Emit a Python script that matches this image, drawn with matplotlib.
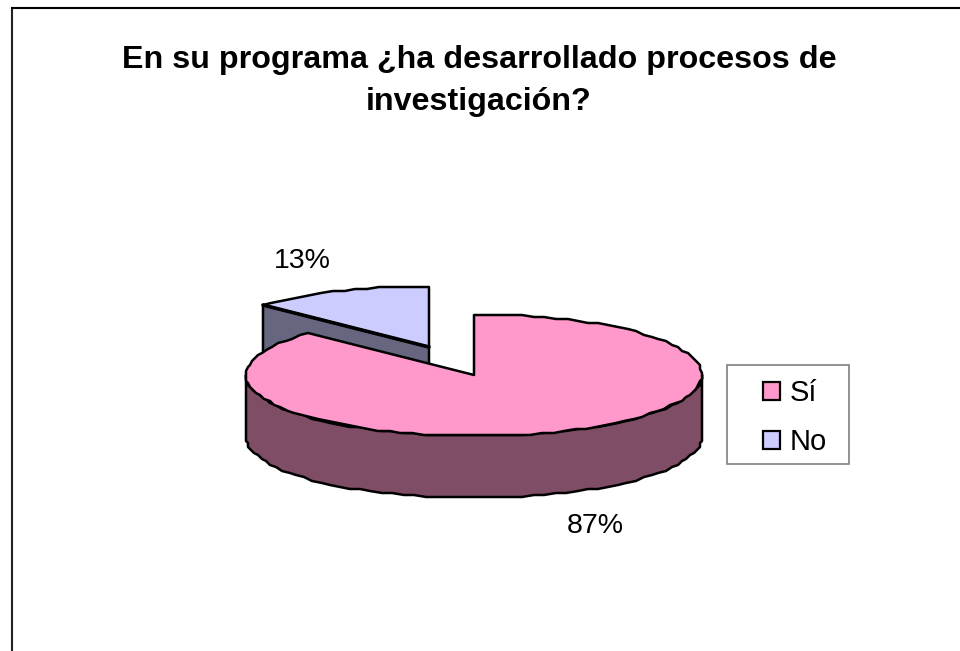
import numpy as np
import matplotlib
matplotlib.use("Agg")
import matplotlib.pyplot as plt
from matplotlib.patches import Polygon, Patch, Rectangle

title = "En su programa ¿ha desarrollado procesos de\ninvestigación?"
categories = ["Sí", "No"]
shares = [87, 13]
top_colors = ["#FF99CC", "#CCCCFF"]
side_colors = ["#804D66", "#666680"]

plt.rcParams["font.family"] = ["Liberation Sans", "DejaVu Sans"]
fig = plt.figure(figsize=(9.6, 6.51), dpi=100)
ax = fig.add_axes([0, 0, 1, 1])
ax.set_xlim(0, 960)
ax.set_ylim(651, 0)
ax.axis("off")

# chart frame, cut off by the picture on the right and at the bottom
ax.plot([12, 12], [8, 651], color="#222222", lw=1.5, solid_capstyle="butt")
ax.plot([11, 960], [8, 8], color="black", lw=1.5, solid_capstyle="butt")

cx, cy, rx, ry, depth = 474, 375, 228, 61, 62
dx, dy = -45, -28     # explosion of the second slice
lw = 1.8


def arc(a0, a1, ox=0, oy=0):
    """Rim points for clockwise angles from twelve o'clock, in degrees,
    snapped to a coarse grid like the low-resolution outline of the original."""
    n = max(int(abs(a1 - a0) / 3), 2) + 1
    t = np.radians(np.linspace(a0, a1, n))
    offs = np.column_stack([rx * np.sin(t), -ry * np.cos(t)])
    return np.round(offs / 2) * 2 + [cx + ox, cy + oy]


sweep = [s / sum(shares) * 360 for s in shares]
style = dict(edgecolor="black", lw=lw, joinstyle="round")

# exploded slice: the cut face, then its top
rim = arc(sweep[0], 360, dx, dy)
tip = np.array([cx + dx, cy + dy])
face = np.array([rim[0], tip, tip + [0, depth], rim[0] + [0, depth]])
ax.add_patch(Polygon(face, facecolor=side_colors[1], **style))
ax.add_patch(Polygon(np.vstack([tip, rim]), facecolor=top_colors[1], **style))
ax.plot([tip[0], rim[0][0]], [tip[1], rim[0][1]], color="black", lw=2.6,
        solid_capstyle="round")

# main slice: the outer wall, then its top
front = arc(90, 270)
wall = np.vstack([front, (front + [0, depth])[::-1]])
ax.add_patch(Polygon(wall, facecolor=side_colors[0], **style))
top = np.vstack([[cx, cy], arc(0, sweep[0])])
ax.add_patch(Polygon(top, facecolor=top_colors[0], **style))

ax.text(479, 81, title, ha="center", va="center", fontsize=23.2, fontweight="bold",
        linespacing=1.5)
ax.text(302, 261, f"{shares[1]}%", ha="center", va="center", fontsize=20.5)
ax.text(595, 526, f"{shares[0]}%", ha="center", va="center", fontsize=20.5)

ax.add_patch(Rectangle((727, 365), 122, 99, facecolor="white", edgecolor="#808080",
                       lw=1.2))
handles = [Patch(facecolor=c, edgecolor="black", lw=1.6, label=n)
           for c, n in zip(top_colors, categories)]
leg = ax.legend(handles=handles, loc="upper left",
                bbox_to_anchor=(763 / 960, 1 - 379 / 651), borderaxespad=0,
                fontsize=21, frameon=False,
                handlelength=0.58, handleheight=0.58, handletextpad=0.33,
                labelspacing=0.72, borderpad=0)

fig.savefig("out.png", dpi=100)
